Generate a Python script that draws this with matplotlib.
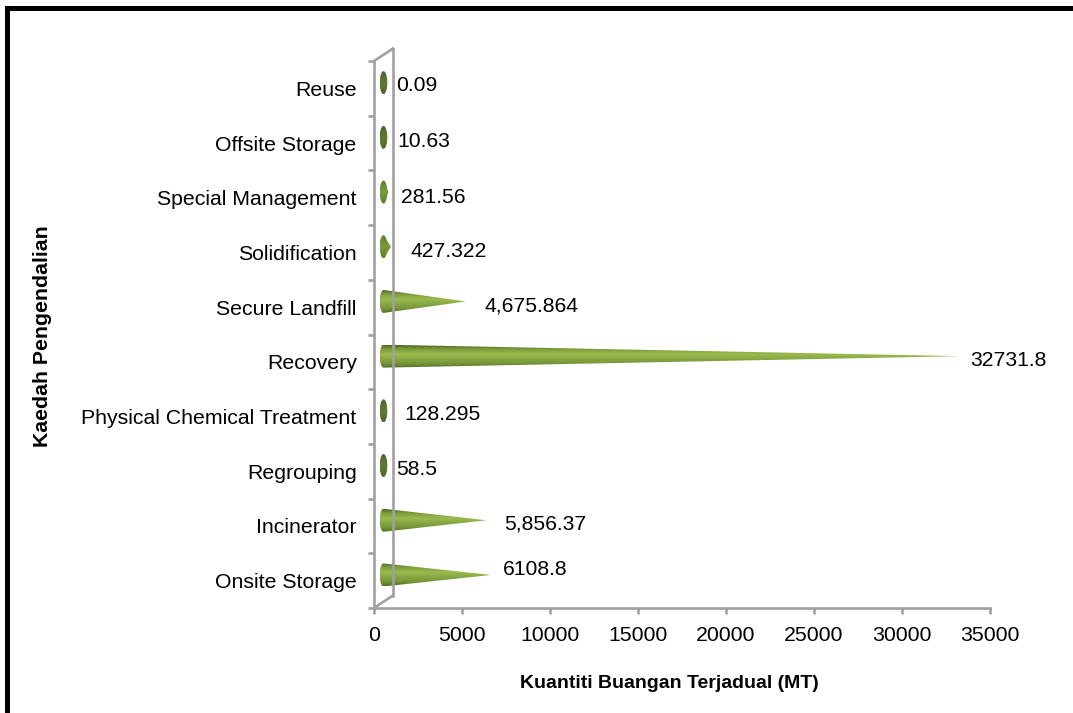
import numpy as np
import matplotlib
matplotlib.use('Agg')
import matplotlib.pyplot as plt
from matplotlib.colors import LinearSegmentedColormap
from matplotlib.patches import Polygon, Rectangle

plt.rcParams['font.family'] = ['Liberation Sans', 'DejaVu Sans']

categories = ['Onsite Storage', 'Incinerator', 'Regrouping', 'Physical Chemical Treatment',
              'Recovery', 'Secure Landfill', 'Solidification', 'Special Management',
              'Offsite Storage', 'Reuse']
values = [6108.8, 5856.37, 58.5, 128.295, 32731.8, 4675.864, 427.322, 281.56, 10.63, 0.09]
value_labels = ['6108.8', '5,856.37', '58.5', '128.295', '32731.8', '4,675.864',
                '427.322', '281.56', '10.63', '0.09']
xticks = [0, 5000, 10000, 15000, 20000, 25000, 30000, 35000]

# label shift from the cone tip, in pixels
label_dx = [12, 18, 11.5, 19, 11, 19, 19, 12.5, 14, 12.5]
label_dy = [5, -4, -4, -4, -4, -5, -5, -5, -4, -3]

W, H = 1073, 713
GRAY = '#a0a0a0'
LW = 1.9

fig = plt.figure(figsize=(W / 100, H / 100), dpi=100)
ax = fig.add_axes([374 / W, 1 - 608 / H, (990 - 374) / W, (608 - 61) / H])
ax.set_xlim(0, 35000)
ax.set_ylim(-0.5, 9.5)

px = 35000 / (990 - 374)     # data units per pixel, x
py = 10 / (608 - 61)         # data units per pixel, y
depth_x, depth_y = 19 * px, 12.5 * py

body_cmap = LinearSegmentedColormap.from_list(
    'body', [(0, '#56702a'), (0.2, '#76963a'), (0.6, '#9aba4e'), (0.82, '#7f9e3c'), (1, '#4f6a28')])
mid_cmap = LinearSegmentedColormap.from_list('mid', ['#5f7c30', '#7a9a3c', '#5f7c30'])
cap_cmap = LinearSegmentedColormap.from_list('cap', ['#4f6628', '#5f7a30', '#4f6628'])
grad = np.linspace(1, 0, 64).reshape(-1, 1)

for i, v in enumerate(values):
    cx = depth_x / 2
    cy = i + depth_y / 2 - 0.01
    rx, ry = 3.8 * px, 11.5 * py
    ext = [cx - rx, cx + v + rx, cy - ry, cy + ry]
    t = np.linspace(0, 2 * np.pi, 60)
    ellipse = np.c_[cx + rx * np.cos(t), cy + ry * np.sin(t)]

    if v <= 1000:
        cmap = cap_cmap if v < 200 else mid_cmap
        im = ax.imshow(grad, cmap=cmap, extent=ext, aspect='auto', interpolation='bilinear', vmin=0, vmax=1)
        im.set_clip_path(Polygon(ellipse, transform=ax.transData))
        if v >= 200:
            tri = [[cx, cy + ry], [cx, cy - ry], [cx + v, cy]]
            im = ax.imshow(grad, cmap=cmap, extent=ext, aspect='auto', interpolation='bilinear', vmin=0, vmax=1)
            im.set_clip_path(Polygon(tri, transform=ax.transData))
    else:
        t = np.linspace(np.pi / 2, 3 * np.pi / 2, 30)
        pts = np.c_[cx + rx * np.cos(t), cy + ry * np.sin(t)]
        pts = np.vstack([pts, [cx + v, cy]])
        im = ax.imshow(grad, cmap=body_cmap, extent=ext, aspect='auto', interpolation='bilinear', vmin=0, vmax=1)
        im.set_clip_path(Polygon(pts, transform=ax.transData))

    ax.annotate(value_labels[i], xy=(cx + v, cy), xytext=(label_dx[i] * 0.72, label_dy[i] * 0.72),
                textcoords='offset points', va='center', ha='left', fontsize=15.2, color='black',
                annotation_clip=False)

ax.set_xlim(0, 35000)
ax.set_ylim(-0.5, 9.5)

# back wall of the 3d frame
ax.plot([depth_x, depth_x], [-0.5 + depth_y, 9.5 + depth_y], color=GRAY, lw=LW, clip_on=False, zorder=0.5)
ax.plot([0, depth_x], [-0.5, -0.5 + depth_y], color=GRAY, lw=LW, clip_on=False, zorder=0.5)
ax.plot([0, depth_x], [9.5, 9.5 + depth_y], color=GRAY, lw=LW, clip_on=False, zorder=0.5)

for s in ['top', 'right']:
    ax.spines[s].set_visible(False)
for s in ['left', 'bottom']:
    ax.spines[s].set_color(GRAY)
    ax.spines[s].set_linewidth(LW)

ax.set_xticks(xticks)
ax.set_xticklabels([str(x) for x in xticks], fontsize=15.3)
ax.set_yticks(np.arange(-0.5, 10, 1))
ax.set_yticklabels([])
ax.set_yticks(np.arange(10), minor=True)
ax.set_yticklabels(categories, minor=True, fontsize=15.3)
ax.tick_params(axis='y', which='major', length=4.5, width=LW, color=GRAY)
ax.tick_params(axis='y', which='minor', length=0, pad=12.5)
ax.tick_params(axis='x', length=4, width=LW, color=GRAY, pad=9)

fig.text(669 / W, 1 - 684 / H, 'Kuantiti Buangan Terjadual (MT)', fontsize=14, fontweight='bold',
         ha='center', va='center')
fig.text(43 / W, 1 - 336 / H, 'Kaedah Pengendalian', fontsize=15.3, fontweight='bold',
         rotation=90, ha='center', va='center')

# black border, left and top only
fig.add_artist(Rectangle((5 / W, 0), 5 / W, 1 - 6 / H, transform=fig.transFigure, color='black', lw=0))
fig.add_artist(Rectangle((5 / W, 1 - 11 / H), 1 - 5 / W, 5 / H, transform=fig.transFigure, color='black', lw=0))

fig.savefig('out.png', dpi=100)
